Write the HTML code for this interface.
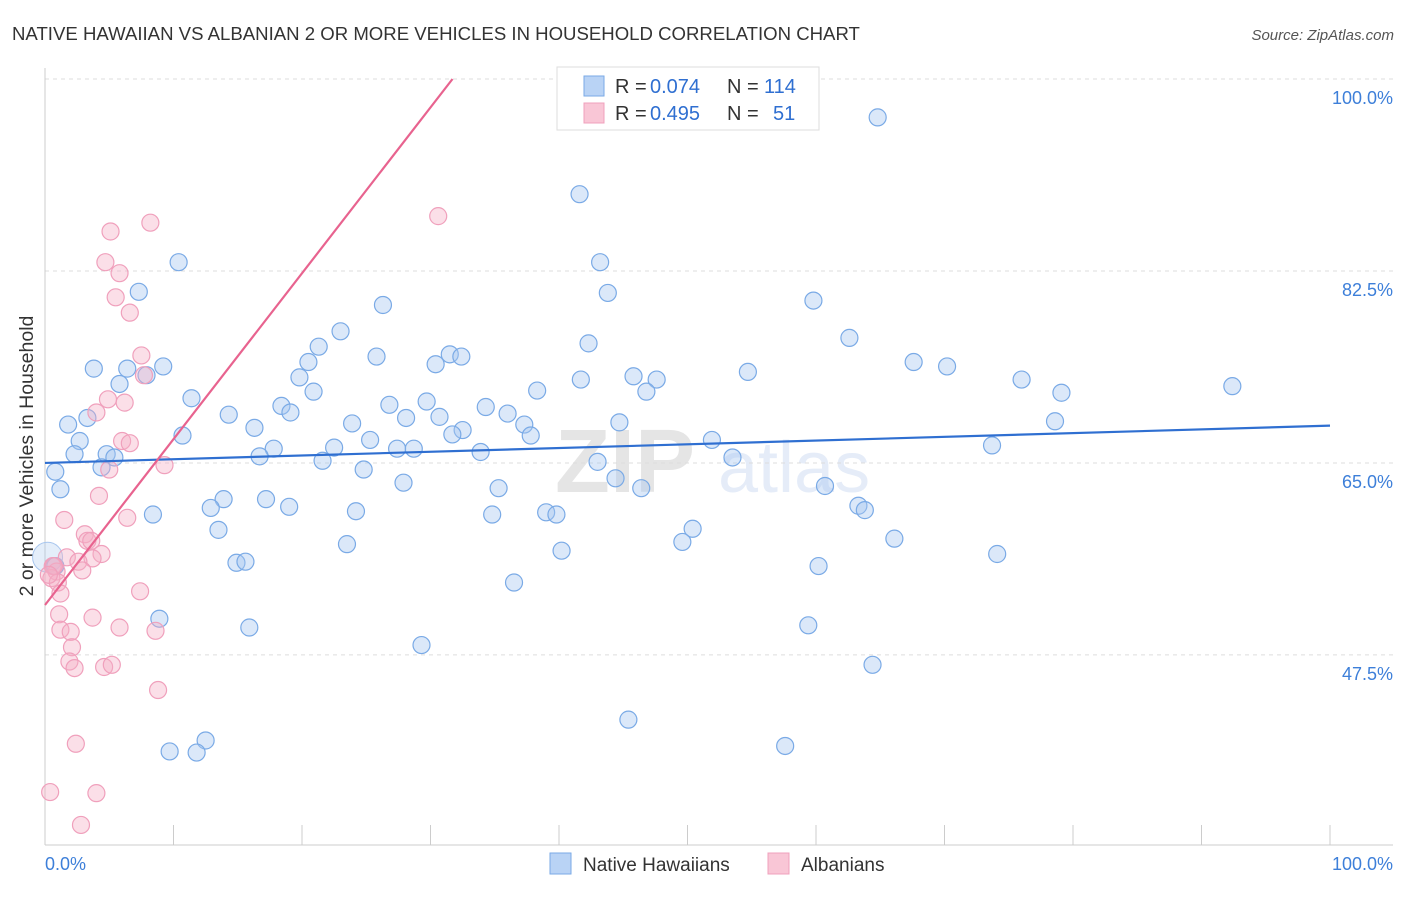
<!DOCTYPE html>
<html><head><meta charset="utf-8"><style>
body{margin:0;background:#fff;font-family:"Liberation Sans",sans-serif;}
svg text{font-family:"Liberation Sans",sans-serif;}
</style></head><body>
<svg id="chart" width="1406" height="892" xmlns="http://www.w3.org/2000/svg">
<text x="12" y="40" font-size="18.6" fill="#333">NATIVE HAWAIIAN VS ALBANIAN 2 OR MORE VEHICLES IN HOUSEHOLD CORRELATION CHART</text>
<text x="1394" y="40" font-size="15" fill="#555" text-anchor="end" font-style="italic">Source: ZipAtlas.com</text>
<text x="33" y="456" font-size="19.5" fill="#333" text-anchor="middle" transform="rotate(-90 33 456)">2 or more Vehicles in Household</text>
<g opacity="0.25">
<text x="555" y="492" font-size="90" font-family="Liberation Serif" fill="#999" font-weight="bold">ZIP</text>
<text x="718" y="492" font-size="72" fill="#9ab8e6">atlas</text>
</g>
<g id="grid"></g>
<g id="axes"></g>
<g id="blue"></g>
<g id="pink"></g>
<g id="lines"></g>
<g>
<rect x="557" y="67" width="262" height="63" fill="#fff" stroke="#ddd"/>
<rect x="584" y="76" width="20" height="20" fill="#b9d3f5" stroke="#7aaae6"/>
<rect x="584" y="103" width="20" height="20" fill="#f9c6d6" stroke="#f0a0bc"/>
<text x="615" y="93" font-size="20" fill="#333">R =</text>
<text x="650" y="93" font-size="20" fill="#2f6fd1">0.074</text>
<text x="727" y="93" font-size="20" fill="#333">N =</text>
<text x="764" y="93" font-size="20" fill="#2f6fd1">114</text>
<text x="615" y="120" font-size="20" fill="#333">R =</text>
<text x="650" y="120" font-size="20" fill="#2f6fd1">0.495</text>
<text x="727" y="120" font-size="20" fill="#333">N =</text>
<text x="773" y="120" font-size="20" fill="#2f6fd1">51</text>
</g>
<g>
<rect x="550" y="853" width="21" height="21" fill="#b9d3f5" stroke="#7aaae6"/>
<text x="583" y="871" font-size="19" fill="#333">Native Hawaiians</text>
<rect x="768" y="853" width="21" height="21" fill="#f9c6d6" stroke="#f0a0bc"/>
<text x="801" y="871" font-size="19" fill="#333">Albanians</text>
</g>
</svg>
<script>
const yTicks=[47.5,65,82.5,100];
const yTickLabels=["47.5%","65.0%","82.5%","100.0%"];
const xTickLabels=["0.0%","100.0%"];
const blueX=[64.8,41.6,10.4,43.2,7.3,43.8,26.3,59.8,23.0,62.6,42.3,21.3,25.8,20.5,31.5,32.4,30.4,67.6,70.2,54.7,3.8,6.4,7.9,9.2,19.8,41.7,45.8,47.6,76.0,92.4,79.1,5.8,20.9,38.3,11.4,46.8,18.4,26.8,29.7,34.3,19.1,14.3,28.1,30.7,36.0,78.6,1.8,3.3,23.9,16.3,37.3,44.7,32.5,31.7,37.8,10.7,2.7,25.3,51.9,73.7,17.8,22.5,27.4,28.7,33.9,16.7,2.3,4.8,5.4,21.6,53.5,0.8,4.4,24.8,43.0,44.4,46.4,60.7,27.9,35.3,1.2,13.9,17.2,19.0,12.9,8.4,24.2,34.8,39.0,39.8,63.3,63.8,13.5,50.4,49.6,66.1,23.5,40.2,74.1,14.9,15.6,60.2,36.5,8.9,59.4,15.9,29.3,64.4,45.4,12.5,9.7,11.8,57.6,0.8];
const blueY=[96.5,89.5,83.3,83.3,80.6,80.5,79.4,79.8,77.0,76.4,75.9,75.6,74.7,74.2,74.9,74.7,74.0,74.2,73.8,73.3,73.6,73.6,73.0,73.8,72.8,72.6,72.9,72.6,72.6,72.0,71.4,72.2,71.5,71.6,70.9,71.5,70.2,70.3,70.6,70.1,69.6,69.4,69.1,69.2,69.5,68.8,68.5,69.1,68.6,68.2,68.5,68.7,68.0,67.6,67.5,67.5,67.0,67.1,67.1,66.6,66.3,66.4,66.3,66.3,66.0,65.6,65.8,65.8,65.5,65.2,65.5,64.2,64.6,64.4,65.1,63.6,62.7,62.9,63.2,62.7,62.6,61.7,61.7,61.0,60.9,60.3,60.6,60.3,60.5,60.3,61.1,60.7,58.9,59.0,57.8,58.1,57.6,57.0,56.7,55.9,56.0,55.6,54.1,50.8,50.2,50.0,48.4,46.6,41.6,39.7,38.7,38.6,39.2,55.6];
const pinkX=[5.1,8.2,30.6,4.7,5.8,5.5,6.6,7.5,7.7,4.0,4.9,6.2,6.0,6.6,9.3,5.0,4.2,1.5,6.4,3.1,3.3,3.6,4.4,1.7,3.7,2.6,0.6,0.9,2.9,0.5,1.0,7.4,1.2,1.1,3.7,5.8,1.2,2.0,8.6,2.1,1.9,2.3,4.6,5.2,8.8,2.4,0.4,4.0,2.8,0.7,0.3];
const pinkY=[86.1,86.9,87.5,83.3,82.3,80.1,78.7,74.8,73.0,69.6,70.8,70.5,67.0,66.8,64.8,64.4,62.0,59.8,60.0,58.5,57.9,57.9,56.7,56.4,56.3,56.0,55.6,55.1,55.2,54.5,54.1,53.3,53.1,51.2,50.9,50.0,49.8,49.6,49.7,48.2,46.9,46.3,46.4,46.6,44.3,39.4,35.0,34.9,32.0,55.6,54.8];
const bigX=[0.2], bigY=[56.4];
const blueTrend=[65.0,68.4];
const pinkTrend=[52.05,1.512];
const NS="http://www.w3.org/2000/svg";
const X=v=>45+v*12.85, Y=v=>79+(100-v)*10.97;
function mk(tag,attrs,parent){const e=document.createElementNS(NS,tag);for(const k in attrs)e.setAttribute(k,attrs[k]);document.getElementById(parent).appendChild(e);return e;}
yTicks.forEach((t,i)=>{
 const g=mk('line',{x1:45,x2:1393,y1:Y(t),y2:Y(t),stroke:'#ddd','stroke-dasharray':'4,4'},'grid');
 
 
 const l=mk('text',{x:1393,y:Y(t)+25,'font-size':18,fill:'#3d7fd9','text-anchor':'end'},'grid');
 l.textContent=yTickLabels[i];
 
 
});
mk('line',{x1:45,x2:45,y1:68,y2:845,stroke:'#ccc'},'axes');
mk('line',{x1:45,x2:1393,y1:845,y2:845,stroke:'#ccc'},'axes');
for(let i=1;i<=10;i++){const t=mk('line',{x1:X(i*10),x2:X(i*10),y1:825,y2:845,stroke:'#ccc'},'axes');}
const xl0=mk('text',{x:45,y:870,'font-size':18,fill:'#3d7fd9','text-anchor':'start'},'axes');xl0.textContent=xTickLabels[0];


const xl1=mk('text',{x:1393,y:870,'font-size':18,fill:'#3d7fd9','text-anchor':'end'},'axes');xl1.textContent=xTickLabels[1];


blueX.forEach((v,i)=>{const c=mk('circle',{cx:X(v),cy:Y(blueY[i]),r:8.5,fill:'rgba(165,198,240,0.4)',stroke:'#7aaae6','stroke-width':1.2},'blue');
 
 });
bigX.forEach((v,i)=>{const c=mk('circle',{cx:X(v),cy:Y(bigY[i]),r:15,fill:'rgba(165,198,240,0.3)',stroke:'#a8c6ee','stroke-width':1},'blue');
 
 });
pinkX.forEach((v,i)=>{const c=mk('circle',{cx:X(v),cy:Y(pinkY[i]),r:8.5,fill:'rgba(245,175,198,0.4)',stroke:'#f0a0bc','stroke-width':1.2},'pink');
 
 });
const bl=mk('line',{x1:X(0),y1:Y(blueTrend[0]),x2:X(100),y2:Y(blueTrend[1]),stroke:'#2f6fd1','stroke-width':2.2},'lines');


const xe=(100-pinkTrend[0])/pinkTrend[1];
const pl=mk('line',{x1:X(0),y1:Y(pinkTrend[0]),x2:X(xe),y2:Y(100),stroke:'#e8638f','stroke-width':2.2},'lines');


</script>
</body></html>
